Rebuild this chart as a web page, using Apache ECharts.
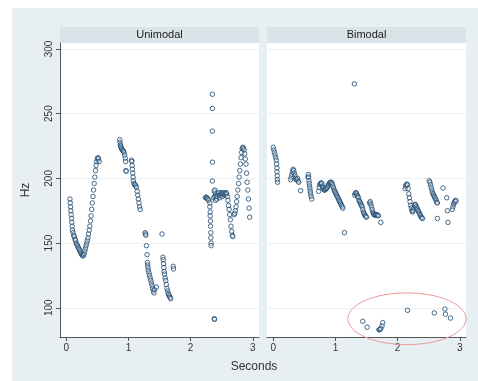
<!DOCTYPE html>
<html>
<head>
<meta charset="utf-8">
<script src="https://cdn.jsdelivr.net/npm/echarts@6/dist/echarts.min.js"></script>
<style>
  html, body { margin: 0; padding: 0; background: #fff; }
  #chart { width: 478px; height: 381px; }
</style>
</head>
<body>
<div id="chart"></div>
<script>
// panel titles and ticks
const panelNames = ['Unimodal', 'Bimodal'];
const secTicks = [0, 1, 2, 3];
const hzTicks = [100, 150, 200, 250, 300];

// pitch track, unimodal speaker: [seconds, Hz]
const unimodalPoints = [
    [0.06,184],[0.065,181],[0.07,178],[0.075,175],[0.08,172],[0.085,169],[0.09,166],[0.095,163],[0.10,160],
    [0.11,158],[0.12,156],[0.13,155],[0.14,153],[0.15,152],[0.16,150],[0.17,149],[0.18,148],[0.19,147],
    [0.20,146],[0.21,145],[0.22,144],[0.23,143],[0.24,142],[0.25,141],[0.26,140.5],[0.27,140],[0.28,141],
    [0.29,142],[0.30,144],[0.31,146],[0.32,148],[0.33,150],[0.34,152],[0.35,154],[0.36,157],[0.37,160],
    [0.38,163],[0.39,167],[0.40,171],[0.41,176],[0.42,181],[0.43,186],[0.44,191],[0.45,196],[0.46,201],
    [0.47,206],[0.48,210],[0.49,213],[0.50,215],[0.51,216],[0.52,215],[0.53,213],
    [0.86,230],[0.865,228],[0.87,226],[0.875,225],[0.88,224],[0.89,223],[0.90,222],[0.91,221.5],[0.92,221],
    [0.93,220],[0.94,218],[0.95,215.5],[0.955,213],[0.96,206],[0.965,205.5],
    [1.05,214],[1.055,213],[1.06,210],[1.065,207],[1.07,204],[1.075,201],[1.08,198],[1.09,196],[1.10,195],
    [1.11,195],[1.12,194],[1.13,193],[1.14,190],[1.15,187],[1.16,184],[1.17,181],[1.18,178],[1.19,176],
    [1.27,158],[1.275,157],[1.28,156],[1.29,148],[1.30,141],[1.305,135],[1.31,133],[1.315,131],[1.32,129],
    [1.33,127],[1.34,125],[1.35,123],[1.36,121],[1.37,119],[1.38,117],[1.39,115],[1.40,113],[1.41,111.5],
    [1.42,114],[1.45,116],
    [1.54,157],[1.555,139],[1.56,137],[1.565,134],[1.57,131],[1.575,128],[1.58,126],[1.59,123],[1.60,121],
    [1.61,118],[1.62,115],[1.63,113],[1.64,111],[1.65,110],[1.66,109],[1.67,108],[1.68,107],
    [1.72,132],[1.725,130],
    [2.35,265],[2.35,254],[2.35,236.5],[2.35,212.5],[2.35,198],
    [2.24,185],[2.25,185.5],[2.26,185],[2.27,184.5],[2.28,184],[2.29,183],
    [2.31,181],[2.31,178],[2.315,174],[2.315,171],[2.32,167],[2.32,163],[2.325,158],[2.325,154],[2.33,150],[2.33,148],
    [2.38,91.5],[2.385,91],
    [2.37,185],[2.38,190],[2.39,191],[2.39,186],[2.40,188],[2.40,183],[2.41,186],[2.42,184],[2.43,186],[2.44,188],
    [2.45,189],[2.46,187],[2.47,185],[2.48,187],[2.49,189],[2.50,188],[2.51,186],[2.52,188],[2.53,189],
    [2.54,188],[2.55,187],[2.56,188],[2.57,189],[2.58,188],[2.59,186],[2.60,183],[2.61,179],[2.62,176],
    [2.63,172],[2.64,168],[2.65,163],[2.66,159],[2.67,156],[2.68,155],
    [2.70,172],[2.71,173],[2.72,175],[2.73,178],[2.74,182],[2.75,186],[2.76,191],[2.77,196],[2.78,201],
    [2.79,206],[2.80,211],[2.81,216],[2.82,220],[2.83,223],[2.84,224],[2.85,223.5],[2.86,222],[2.87,219],
    [2.88,215],[2.89,211],[2.90,204],[2.91,197],[2.92,191],[2.93,184],[2.94,177],[2.95,170]
];

// pitch track, bimodal speaker: [seconds, Hz]
const bimodalPoints = [
    [0.00,224],[0.01,222],[0.02,220],[0.03,218],[0.04,216],[0.05,214],[0.055,211],[0.06,208],[0.06,205],
    [0.065,202],[0.065,199],[0.07,197],
    [0.28,199],[0.29,201],[0.30,203],[0.31,205],[0.32,207],[0.33,206],[0.34,204],[0.35,202],[0.36,200],
    [0.37,199],[0.38,199],[0.39,200],[0.40,198],[0.41,197],[0.44,190.5],
    [0.56,201],[0.565,203],[0.57,201],[0.575,198],[0.58,196],[0.585,194],[0.59,192],[0.595,190],[0.60,188],
    [0.61,186],[0.62,184],
    [0.73,190],[0.74,193],[0.75,195],[0.76,196],[0.77,196.5],[0.78,196],[0.79,194],[0.80,193],[0.81,192],
    [0.82,191],[0.83,191],[0.84,191.5],[0.85,192],[0.86,192.5],[0.87,193],[0.88,194],[0.89,195],[0.90,196],
    [0.91,196.5],[0.92,197],[0.93,197],[0.94,196.5],[0.95,195.5],[0.96,194],[0.97,192.5],[0.98,191],
    [0.99,190],[1.00,189],[1.01,188],[1.02,187],[1.03,186],[1.04,185],[1.05,184],[1.06,183],[1.07,182],
    [1.08,181],[1.09,180],[1.10,179],[1.11,178],[1.12,177],
    [1.145,158],[1.305,273],
    [1.31,187],[1.32,188.5],[1.33,189],[1.34,188],[1.35,187],[1.36,186],[1.37,185],[1.38,183],[1.39,182],
    [1.40,181],[1.41,180],[1.42,179],[1.43,178],[1.44,176],[1.45,174],[1.46,173],[1.47,172],[1.48,171],
    [1.49,170.5],[1.50,170],
    [1.55,181],[1.56,182],[1.57,180],[1.58,178],[1.59,176],[1.60,174],[1.61,173],[1.62,172],[1.63,172],
    [1.64,171.5],[1.65,172],[1.66,171.5],[1.67,172],[1.68,171.5],[1.69,171],[1.73,166],
    [2.12,192],[2.13,194],[2.14,195],[2.15,195.5],[2.16,195],[2.17,192],[2.18,188],[2.19,185],[2.20,182],
    [2.21,179],[2.22,177],[2.23,175],[2.24,174],[2.25,175],[2.26,177],[2.27,179],[2.28,180],[2.29,179.5],
    [2.30,178],[2.31,177],[2.32,176],[2.33,175],[2.34,174],[2.35,173],[2.36,172],[2.37,171],[2.38,170],
    [2.39,169.5],[2.40,169],
    [2.51,198],[2.52,197],[2.53,195],[2.54,193],[2.55,191],[2.56,189],[2.57,188],[2.58,187],[2.59,186],
    [2.60,185],[2.61,184],[2.62,183],[2.63,181.5],[2.64,181],
    [2.64,169],[2.73,192.5],[2.79,185],[2.80,175],[2.81,166],
    [2.88,176],[2.89,178],[2.90,180],[2.91,181],[2.92,182],[2.93,183],[2.94,182.5],
    [1.44,89.5],[1.51,85],[1.70,83],[1.71,83],[1.72,83.5],[1.73,84],[1.75,86],[1.76,88.5],
    [2.16,98],[2.59,96],[2.76,99],[2.77,95],[2.85,92]
];

// red ellipse round the low cluster, in data units of the bimodal panel
const ringCenter = [2.15, 91.5];
const ringRadius = [0.95, 20];

const font = 'Liberation Sans, Arial, Helvetica, sans-serif';
const navy = '#1a476f';

var chartDom = document.getElementById('chart');
var myChart = echarts.init(chartDom);

const grids = [
    { left: 60, right: 219, top: 43, bottom: 44 },
    { left: 267, right: 12, top: 43, bottom: 44 }
];

function makeX(i) {
    return {
        type: 'value', gridIndex: i, min: -0.1, max: 3.1,
        axisLine: { show: true, onZero: false, lineStyle: { color: '#555', width: 1 } },
        axisTick: { show: true, length: 4, customValues: secTicks, lineStyle: { color: '#555' } },
        axisLabel: { customValues: secTicks, color: '#333', fontSize: 10, fontFamily: font, margin: 6 },
        splitLine: { show: false }
    };
}
function makeY(i) {
    return {
        type: 'value', gridIndex: i, min: 77.4, max: 304.6,
        name: i === 0 ? 'Hz' : '', nameLocation: 'middle', nameGap: 28, nameRotate: 90,
        nameTextStyle: { color: '#333', fontSize: 12, fontFamily: font },
        axisLine: { show: i === 0, onZero: false, lineStyle: { color: '#555', width: 1 } },
        axisTick: { show: i === 0, length: 4, customValues: hzTicks, lineStyle: { color: '#555' } },
        axisLabel: { show: i === 0, customValues: hzTicks, rotate: 90, color: '#333', fontSize: 10, fontFamily: font, margin: 6 },
        splitLine: { show: true, lineStyle: { color: '#eaf1f3', width: 1 } }
    };
}

const option = {
    backgroundColor: '#ffffff',
    animation: false,
    grid: grids.map(g => Object.assign({ show: true, backgroundColor: '#ffffff', borderWidth: 0 }, g)),
    xAxis: [makeX(0), makeX(1)],
    yAxis: [makeY(0), makeY(1)],
    series: [unimodalPoints, bimodalPoints].map((pts, i) => ({
        type: 'scatter',
        xAxisIndex: i, yAxisIndex: i,
        data: pts,
        symbol: 'circle',
        symbolSize: 4.5,
        itemStyle: { color: 'rgba(255,255,255,0.35)', borderColor: navy, borderWidth: 1 },
        z: 3
    })),
    graphic: []
};

myChart.setOption(option);

// background, strip headers, axis title and ellipse
const graphics = [
    { type: 'rect', z: -10, silent: true, shape: { x: 12, y: 8, width: 466, height: 373 }, style: { fill: '#e8eff2' } }
];
panelNames.forEach((name, i) => {
    const g = grids[i];
    const x0 = g.left;
    const x1 = 478 - g.right;
    graphics.push({ type: 'rect', z: -5, silent: true, shape: { x: x0, y: 27, width: x1 - x0, height: 16 }, style: { fill: '#d9e3e8' } });
    graphics.push({ type: 'text', z: 5, silent: true, x: (x0 + x1) / 2, y: 35,
        style: { text: name, font: '11px ' + font, fill: '#222', align: 'center', verticalAlign: 'middle' } });
});
graphics.push({ type: 'text', z: 5, silent: true, x: 254, y: 367,
    style: { text: 'Seconds', font: '12px ' + font, fill: '#333', align: 'center', verticalAlign: 'middle' } });

const c = myChart.convertToPixel({ gridIndex: 1 }, ringCenter);
const e = myChart.convertToPixel({ gridIndex: 1 }, [ringCenter[0] + ringRadius[0], ringCenter[1] + ringRadius[1]]);
graphics.push({ type: 'ellipse', z: 10, silent: true,
    shape: { cx: c[0], cy: c[1], rx: Math.abs(e[0] - c[0]), ry: Math.abs(e[1] - c[1]) },
    style: { fill: 'none', stroke: '#e89a9a', lineWidth: 1 } });

myChart.setOption({ graphic: graphics });
</script>
</body>
</html>
